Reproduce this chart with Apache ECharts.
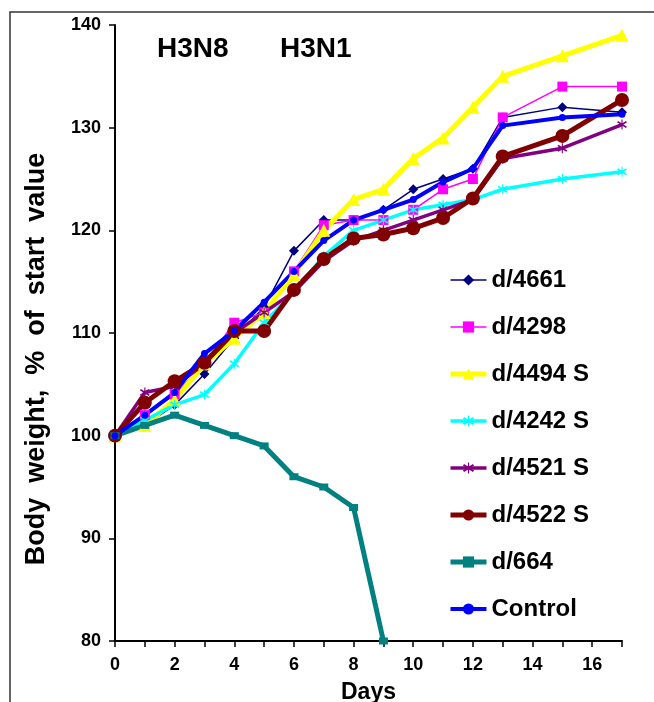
<!DOCTYPE html>
<html>
<head>
<meta charset="utf-8">
<script src="https://cdn.jsdelivr.net/npm/echarts@6/dist/echarts.min.js"></script>
<style>
html,body{margin:0;padding:0;background:#fff;}
#chart{width:654px;height:702px;}
</style>
</head>
<body>
<div id="chart"></div>
<script>
var days = [0,1,2,3,4,5,6,7,8,9,10,11,12,13,15,17];
var dayTicks = [0,2,4,6,8,10,12,14,16];
var yTicks = [80,90,100,110,120,130,140];
var d4661 = [100,101,103,106,109.5,112.5,118,121,121,122,124,125,126,131,132,131.5];
var d4298 = [100,102,104,107,111,112,116,120.5,121,121,122,124,125,131,134,134];
var d4494 = [100,101,103.5,107,109.5,112,115.7,120,123,124,127,129,132,135,137,139];
var d4242 = [100,101.5,103,104,107,111,114,117.5,120,121,122,122.5,123,124,125,125.7];
var d4521 = [100,104.2,104.8,107,110,112,114,117,119,120,121,122,123,127,128,130.3];
var d4522 = [100,103.2,105.3,107.1,110.2,110.2,114.2,117.2,119.2,119.6,120.2,121.2,123.1,127.2,129.2,132.7];
var d664Days = [0,1,2,3,4,5,6,7,8,9];
var d664 = [100,101,102,101,100,99,96,95,93,80];
var control = [100,102,104.2,108,110.2,113,116,119,121,122,123,124.7,126,130.2,131,131.3];
var names = ['d/4661','d/4298','d/4494 S','d/4242 S','d/4521 S','d/4522 S','d/664','Control'];

var FONT = '"Liberation Sans", Arial, sans-serif';
var asterisk = 'path://M9,0 L11,0 L11,20 L9,20 Z M1,5.5 L3,3 L19,14.5 L17,17 Z M17,3 L19,5.5 L3,17 L1,14.5 Z';

function pairs(xs, ys){ return ys.map(function(v,i){ return [xs[i], v]; }); }

function mk(name, xs, ys, color, width, symbol, size){
  return {
    name: name, type: 'line', data: pairs(xs, ys),
    lineStyle: {color: color, width: width},
    itemStyle: {color: color},
    symbol: symbol, symbolSize: size, showSymbol: true,
    animation: false
  };
}

var chart = echarts.init(document.getElementById('chart'));
chart.setOption({
  backgroundColor: '#ffffff',
  animation: false,
  grid: {left: 115, right: 32, top: 25, bottom: 61, outerBoundsMode: 'none', containLabel: false},
  xAxis: {
    type: 'value', min: 0, max: 17, interval: 1,
    name: 'Days', nameLocation: 'middle', nameGap: 40,
    nameTextStyle: {fontFamily: FONT, fontWeight: 'bold', fontSize: 23, color: '#000'},
    axisLine: {lineStyle: {color: '#000', width: 2}},
    axisTick: {show: true, inside: false, length: 6, lineStyle: {color: '#000', width: 1.5}},
    axisLabel: {
      fontFamily: FONT, fontWeight: 'bold', fontSize: 18, color: '#000', margin: 15,
      formatter: function(v){ return dayTicks.indexOf(v) >= 0 ? String(v) : ''; }
    },
    splitLine: {show: false}
  },
  yAxis: {
    type: 'value', min: yTicks[0], max: yTicks[yTicks.length-1], interval: 10,
    axisLine: {show: true, lineStyle: {color: '#000', width: 2}},
    axisTick: {show: true, inside: false, length: 6, lineStyle: {color: '#000', width: 1.5}},
    axisLabel: {fontFamily: FONT, fontWeight: 'bold', fontSize: 18, color: '#000', margin: 14},
    splitLine: {show: false}
  },
  legend: {
    orient: 'vertical', left: 443, top: 263,
    itemWidth: 36, itemHeight: 14, itemGap: 23,
    lineStyle: {width: 'inherit'},
    textStyle: {fontFamily: FONT, fontWeight: 'bold', fontSize: 24, color: '#000', lineHeight: 24},
    data: names
  },
  graphic: [
    {type: 'rect', shape: {x: 10, y: 12, width: 800, height: 800}, style: {fill: 'none', stroke: '#333', lineWidth: 1.5}, silent: true},
    {type: 'text', left: 157, top: 35, style: {text: 'H3N8', fontFamily: FONT, fontWeight: 'bold', fontSize: 28, fill: '#000'}},
    {type: 'text', left: 280, top: 35, style: {text: 'H3N1', fontFamily: FONT, fontWeight: 'bold', fontSize: 28, fill: '#000'}},
    {type: 'text', x: 37, y: 359, rotation: Math.PI / 2,
     style: {text: 'Body  weight,  %  of  start  value', fontFamily: FONT, fontWeight: 'bold', fontSize: 27, fill: '#000', align: 'center', verticalAlign: 'middle'}}
  ],
  series: [
    mk(names[0], days, d4661, '#000080', 1.5, 'diamond', 10),
    mk(names[1], days, d4298, '#FF00FF', 1.5, 'rect', 10),
    mk(names[2], days, d4494, '#FFFF00', 5, 'triangle', 13),
    mk(names[3], days, d4242, '#00FFFF', 3.5, asterisk, 10),
    mk(names[4], days, d4521, '#800080', 3.5, asterisk, 10),
    mk(names[5], days, d4522, '#800000', 5, 'circle', 14),
    mk(names[6], d664Days, d664, '#008080', 5, 'rect', [9,7]),
    mk(names[7], days, control, '#0000FF', 4, 'circle', 7)
  ]
});
</script>
</body>
</html>
